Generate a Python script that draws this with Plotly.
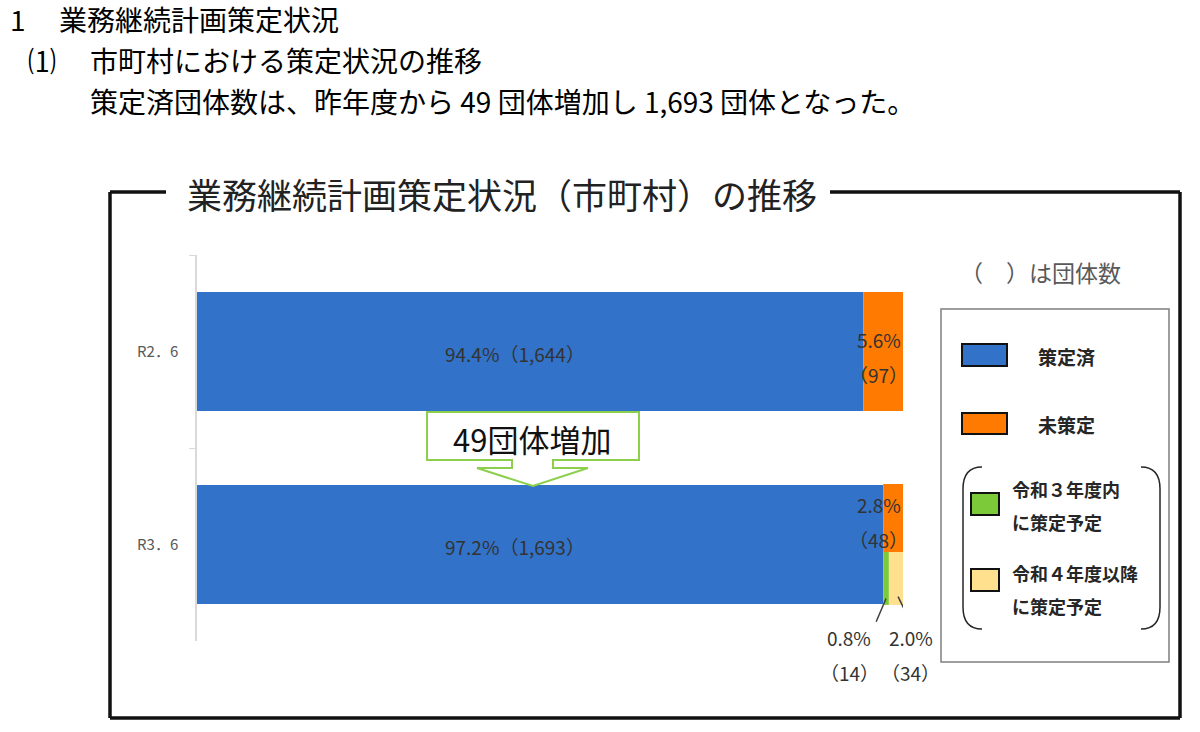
import plotly.graph_objects as go

# data
categories = ["R2．6", "R3．6"]
done_pct = [94.4, 97.2]
done_cnt = [1644, 1693]
undone_pct = [5.6, 2.8]
undone_cnt = [97, 48]
plan_r3_pct = 0.8   # R3.6 only
plan_r3_cnt = 14
plan_r4_pct = 2.0
plan_r4_cnt = 34

legend_names = ["策定済", "未策定", "令和３年度内<br>に策定予定", "令和４年度以降<br>に策定予定"]

BLUE = "#3272C8"
ORANGE = "#FF7A00"
GREEN = "#7CC93A"
YELLOW = "#FFE08E"
FONT = "Noto Sans CJK JP"
W, H = 1200, 732


def px(x):
    return x / W


def py(y):
    return 1 - y / H


fig = go.Figure()

# stacked pieces (overlay with explicit bases)
fig.add_trace(go.Bar(orientation="h", y=categories, x=done_pct, base=[0, 0],
                     width=0.617, offset=-0.3085, marker=dict(color=BLUE, line_width=0),
                     hoverinfo="skip"))
fig.add_trace(go.Bar(orientation="h", y=categories, x=undone_pct, base=done_pct,
                     width=[0.617, 0.352], offset=[-0.3085, -0.313],
                     marker=dict(color=ORANGE, line_width=0), hoverinfo="skip"))
fig.add_trace(go.Bar(orientation="h", y=[categories[1]], x=[plan_r3_pct], base=[done_pct[1]],
                     width=0.274, offset=0.039, marker=dict(color=GREEN, line_width=0),
                     hoverinfo="skip"))
fig.add_trace(go.Bar(orientation="h", y=[categories[1]], x=[plan_r4_pct],
                     base=[done_pct[1] + plan_r3_pct],
                     width=0.274, offset=0.039, marker=dict(color=YELLOW, line_width=0),
                     hoverinfo="skip"))

annotations = []
shapes = []

label_font = dict(family=FONT, size=19, color="#333333")

# labels inside the blue bars
for cat, p, c in zip(categories, done_pct, done_cnt):
    annotations.append(dict(x=45, y=cat, xref="x", yref="y", text=f"{p}%（{c:,}）",
                            showarrow=False, font=label_font, yshift=-2))

# orange labels (right aligned at 100%)
for i, (cat, p, c) in enumerate(zip(categories, undone_pct, undone_cnt)):
    top = 12 if i == 0 else 40
    annotations.append(dict(x=done_pct[i] + p, y=cat, xref="x", yref="y", text=f"{p}%",
                            showarrow=False, font=label_font, xanchor="right", yshift=top))
    annotations.append(dict(x=done_pct[i] + p, y=cat, xref="x", yref="y", text=f"（{c}）",
                            showarrow=False, font=label_font, xanchor="right", xshift=7,
                            yshift=top - 35))

# small pieces below the R3 bar with leader lines
g_mid = done_pct[1] + plan_r3_pct / 2
y_mid = done_pct[1] + plan_r3_pct + plan_r4_pct / 2
for mid, shift, p, c in [(g_mid, -37, plan_r3_pct, plan_r3_cnt), (y_mid, 15, plan_r4_pct, plan_r4_cnt)]:
    annotations.append(dict(x=mid, y=categories[1], xref="x", yref="y", text=f"{p}%",
                            showarrow=False, font=label_font, xshift=shift, yshift=-93))
    annotations.append(dict(x=mid, y=categories[1], xref="x", yref="y", text=f"（{c}）",
                            showarrow=False, font=label_font, xshift=shift, yshift=-128))
shapes.append(dict(type="line", xref="x", yref="y", x0=g_mid, y0=1.28, x1=g_mid - 1.4, y1=1.40,
                   line=dict(color="#404040", width=1.5)))
shapes.append(dict(type="line", xref="x", yref="y", x0=y_mid + 0.3, y0=1.27, x1=y_mid + 1.5, y1=1.36,
                   line=dict(color="#404040", width=1.5)))

# headings above the chart
head_font = dict(family=FONT, size=28, color="#000000")
for x, y, t in [(8, 19, "1"), (57, 19, "業務継続計画策定状況"),
                (26, 60, "⑴"), (88, 60, "市町村における策定状況の推移"),
                (88, 101, "策定済団体数は、昨年度から 49 団体増加し 1,693 団体となった。")]:
    annotations.append(dict(x=px(x), y=py(y), xref="paper", yref="paper", text=t,
                            showarrow=False, xanchor="left", yanchor="middle", font=head_font))

# framed title
annotations.append(dict(x=px(185), y=py(194), xref="paper", yref="paper",
                        text="業務継続計画策定状況（市町村）の推移", showarrow=False,
                        xanchor="left", yanchor="middle",
                        font=dict(family=FONT, size=35, color="#222222")))
frame = dict(color="#111111", width=3.5)
for x0, y0, x1, y1 in [(110, 192, 166, 192), (830, 192, 1180, 192), (110, 192, 110, 718),
                       (1180, 192, 1180, 718), (110, 718, 1180, 718)]:
    shapes.append(dict(type="line", xref="paper", yref="paper", x0=px(x0), y0=py(y0),
                       x1=px(x1), y1=py(y1), line=frame))

# note
annotations.append(dict(x=px(958), y=py(272), xref="paper", yref="paper", text="（　）は団体数",
                        showarrow=False, xanchor="left", yanchor="middle",
                        font=dict(family=FONT, size=23, color="#595959")))

# callout "49団体増加"
pts = [(427, 412), (639, 412), (639, 460), (553, 460), (553, 468), (588, 468), (533, 486),
       (477, 468), (512, 468), (512, 460), (427, 460)]
path = "M " + " L ".join(f"{px(x):.5f},{py(y):.5f}" for x, y in pts) + " Z"
shapes.append(dict(type="path", xref="paper", yref="paper", path=path,
                   fillcolor="white", line=dict(color="#8CCF4D", width=2)))
annotations.append(dict(x=px(532), y=py(438), xref="paper", yref="paper", text="49団体増加",
                        showarrow=False, font=dict(family=FONT, size=31, color="#111111")))

# hand-made legend
shapes.append(dict(type="rect", xref="paper", yref="paper", x0=px(941), y0=py(309),
                   x1=px(1169), y1=py(662), line=dict(color="#7f7f7f", width=1.5)))
legend_items = [
    (BLUE, (962, 344, 1007, 366), (1036, 356)),
    (ORANGE, (962, 413, 1007, 434), (1036, 424)),
    (GREEN, (971, 493, 999, 515), (1010, 506)),
    (YELLOW, (971, 569, 999, 591), (1010, 590)),
]
for (col, (x0, y0, x1, y1), (tx, ty)), name in zip(legend_items, legend_names):
    shapes.append(dict(type="rect", xref="paper", yref="paper", x0=px(x0), y0=py(y0),
                       x1=px(x1), y1=py(y1), fillcolor=col, line=dict(color="#111111", width=2)))
    if "<br>" in name:
        for k, part in enumerate(name.split("<br>")):
            annotations.append(dict(x=px(tx), y=py(ty - 17 + k * 33), xref="paper", yref="paper",
                                    text=f"<b>{part}</b>", showarrow=False, xanchor="left",
                                    yanchor="middle", font=dict(family=FONT, size=18, color="#262626")))
    else:
        annotations.append(dict(x=px(tx), y=py(ty), xref="paper", yref="paper",
                                text=f"<b>{name}</b>", showarrow=False, xanchor="left",
                                yanchor="middle", font=dict(family=FONT, size=19, color="#262626")))


# round brackets around the two plan items
def bracket(xe, xc):
    pts = f"M {px(xc):.5f},{py(467):.5f} Q {px(xe):.5f},{py(467):.5f} {px(xe):.5f},{py(489):.5f} " \
          f"L {px(xe):.5f},{py(607):.5f} Q {px(xe):.5f},{py(629):.5f} {px(xc):.5f},{py(629):.5f}"
    return dict(type="path", xref="paper", yref="paper", path=pts, line=dict(color="#262626", width=1.5))


shapes.append(bracket(963, 982))
shapes.append(bracket(1160, 1141))

fig.update_layout(
    width=W, height=H, autosize=False,
    margin=dict(l=0, r=0, t=0, b=0, pad=0),
    paper_bgcolor="white", plot_bgcolor="white",
    barmode="overlay", showlegend=False,
    font=dict(family=FONT),
    xaxis=dict(range=[0, 100], domain=[px(197), px(903)], visible=False, fixedrange=True),
    yaxis=dict(type="category", categoryorder="array", categoryarray=categories,
               range=[1.5, -0.5], domain=[py(641), py(255)],
               showline=True, linecolor="#d9d9d9", linewidth=1.5,
               ticks="outside", tickson="boundaries", ticklen=6, tickcolor="#d9d9d9",
               tickfont=dict(family=FONT, size=15, color="#595959"), ticklabelstandoff=14,
               showgrid=False, zeroline=False, fixedrange=True),
    shapes=shapes,
    annotations=annotations,
)

# page has a default 8px body margin; drop it so the figure sits at the window origin
fig.write_html("out.html", config={"displayModeBar": False},
               post_script="document.body.style.margin='0';document.body.style.overflow='hidden';")
